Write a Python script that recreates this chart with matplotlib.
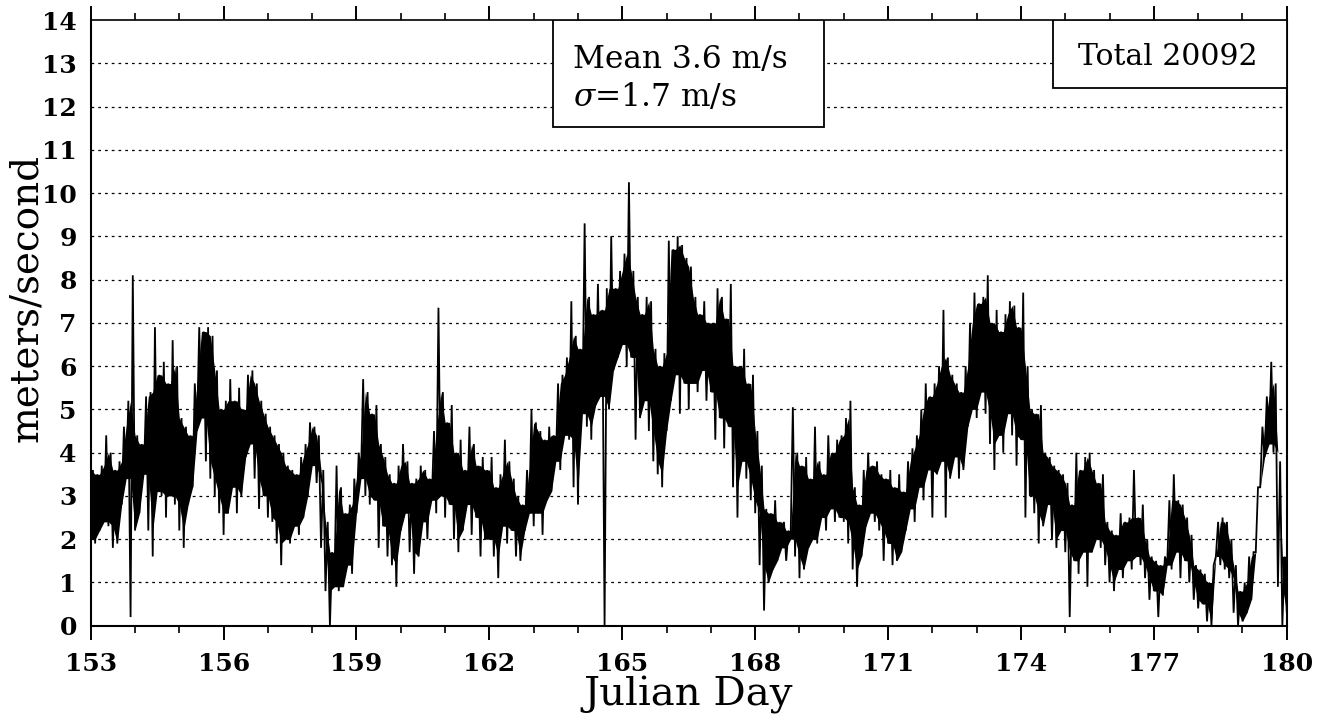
import numpy as np
import matplotlib
matplotlib.use("Agg")
import matplotlib.pyplot as plt
from matplotlib.patches import Rectangle
from matplotlib.ticker import MultipleLocator

plt.rcParams['font.family'] = ['DejaVu Serif']
plt.rcParams['mathtext.fontset'] = 'dejavuserif'

# wind speed, one low/high pair every 0.1 day from day 153.0
day_start = 153.0
day_step = 0.1

speed_low = [
    2.0, 1.9, 2.2, 2.4, 2.3, 1.8, 1.9, 2.8, 3.4, 0.2,   # 153
    2.2, 2.6, 3.5, 2.2, 1.6, 3.1, 3.0, 2.5, 3.0, 2.8,   # 154
    2.2, 1.8, 2.8, 3.2, 4.5, 4.8, 3.8, 3.4, 3.0, 2.6,   # 155
    2.1, 2.6, 3.2, 2.6, 3.0, 3.9, 4.2, 3.4, 2.7, 3.0,   # 156
    2.5, 2.4, 1.9, 1.4, 2.0, 1.9, 2.3, 2.1, 2.5, 3.0,   # 157
    3.7, 3.3, 1.8, 0.8, 0.0, 0.9, 0.8, 0.9, 1.4, 1.2,   # 158
    2.6, 3.4, 3.0, 2.8, 2.9, 1.8, 2.3, 1.6, 1.4, 0.9,   # 159
    2.2, 2.6, 1.7, 1.2, 1.6, 2.4, 2.0, 2.9, 2.6, 3.0,   # 160
    2.5, 2.8, 2.0, 1.7, 2.2, 2.8, 2.1, 2.5, 1.6, 2.0,   # 161
    2.0, 1.6, 1.1, 2.3, 1.9, 2.2, 1.6, 1.5, 2.2, 2.6,   # 162
    2.3, 2.6, 2.1, 2.9, 3.1, 3.8, 3.6, 4.4, 4.3, 3.2,   # 163
    2.8, 4.9, 4.6, 4.3, 5.1, 5.3, 0.0, 5.0, 5.9, 6.2,   # 164
    6.5, 6.0, 6.2, 4.3, 4.8, 5.2, 4.5, 3.8, 3.5, 3.2,   # 165
    4.5, 5.2, 5.8, 4.9, 5.6, 5.0, 5.6, 5.4, 5.9, 5.2,   # 166
    5.4, 4.3, 4.8, 4.1, 4.6, 3.2, 2.5, 3.8, 3.4, 2.9,   # 167
    2.6, 1.4, 0.35, 1.0, 1.3, 1.5, 1.8, 1.5, 2.0, 1.6,  # 168
    1.1, 1.3, 1.8, 2.0, 1.9, 2.5, 2.2, 2.7, 2.4, 2.5,   # 169
    2.4, 1.9, 1.3, 0.9, 1.6, 2.3, 2.6, 2.4, 2.2, 1.5,   # 170
    1.9, 1.4, 1.5, 1.7, 2.2, 2.7, 2.4, 3.2, 2.9, 3.6,   # 171
    2.5, 3.5, 3.8, 2.5, 3.4, 3.9, 3.4, 3.6, 4.6, 5.0,   # 172
    4.8, 5.4, 4.9, 4.2, 3.6, 4.4, 4.0, 4.9, 4.4, 3.7,   # 173
    4.3, 2.5, 3.0, 2.6, 1.9, 2.3, 2.8, 2.0, 1.8, 2.2,   # 174
    1.7, 0.2, 1.5, 1.2, 1.7, 0.9, 1.7, 2.0, 1.8, 1.4,   # 175
    1.0, 0.8, 1.3, 1.1, 1.5, 1.3, 1.6, 1.4, 1.1, 0.6,   # 176
    0.8, 0.2, 0.7, 1.4, 1.3, 1.7, 1.1, 1.5, 1.0, 0.6,   # 177
    0.4, 0.5, 0.1, 0.0, 1.6, 1.4, 1.3, 1.1, 0.3, 0.0,   # 178
    0.1, 0.3, 0.6, 1.7, 3.2, 3.9, 4.2, 4.0, 0.9, 0.0,   # 179
    0.3,                                                # 180
]

speed_high = [
    3.6, 3.5, 3.7, 4.4, 4.0, 3.6, 3.8, 4.6, 5.2, 8.1,   # 153
    4.4, 4.2, 5.3, 5.4, 6.9, 5.8, 6.1, 5.6, 6.6, 6.0,   # 154
    4.8, 4.6, 4.4, 5.6, 6.9, 6.8, 6.9, 6.7, 5.9, 5.0,   # 155
    5.2, 5.7, 5.2, 5.5, 5.0, 5.8, 5.9, 5.6, 5.2, 4.9,   # 156
    4.6, 4.4, 4.2, 4.0, 3.7, 3.6, 3.5, 3.9, 4.2, 4.7,   # 157
    4.6, 4.4, 3.6, 2.4, 1.7, 3.7, 3.2, 2.6, 2.8, 3.4,   # 158
    4.0, 5.7, 5.4, 4.9, 5.1, 4.2, 3.9, 3.5, 3.3, 3.7,   # 159
    4.2, 3.8, 3.3, 3.4, 3.7, 3.6, 3.4, 4.5, 7.35, 5.4,  # 160
    4.7, 5.1, 4.0, 4.3, 3.6, 4.6, 4.2, 3.7, 3.9, 3.6,   # 161
    3.9, 3.2, 3.5, 4.3, 3.8, 3.4, 3.0, 2.8, 3.6, 5.0,   # 162
    4.7, 4.5, 4.3, 4.6, 4.4, 5.6, 5.8, 6.2, 7.5, 6.7,   # 163
    6.4, 9.3, 7.6, 7.2, 7.9, 7.3, 7.8, 9.0, 7.8, 8.2,   # 164
    8.6, 10.25, 8.2, 7.6, 7.2, 7.6, 7.5, 6.4, 6.0, 6.3, # 165
    8.9, 8.7, 9.0, 8.8, 8.5, 8.3, 7.6, 7.2, 7.5, 7.0,   # 166
    7.0, 7.8, 7.6, 7.1, 7.9, 6.0, 6.0, 6.4, 5.6, 5.8,   # 167
    4.5, 3.7, 2.7, 2.6, 2.9, 2.4, 2.4, 2.2, 5.05, 4.0,  # 168
    3.7, 3.9, 3.4, 4.6, 3.8, 3.5, 4.4, 4.0, 4.3, 4.4,   # 169
    4.8, 5.2, 3.2, 2.8, 3.6, 4.0, 3.7, 3.8, 3.5, 3.4,   # 170
    3.6, 3.2, 3.5, 3.1, 3.8, 4.1, 4.4, 5.0, 5.6, 5.3,   # 171
    5.6, 6.0, 7.3, 6.2, 5.8, 5.6, 5.4, 6.0, 7.0, 7.7,   # 172
    7.45, 7.6, 8.1, 7.0, 7.3, 6.8, 7.2, 7.5, 7.4, 6.9,  # 173
    7.7, 6.0, 5.0, 4.9, 5.1, 4.0, 3.9, 3.7, 3.6, 3.5,   # 174
    3.3, 2.8, 4.0, 3.6, 3.9, 4.0, 3.6, 3.3, 3.5, 2.4,   # 175
    2.2, 2.1, 2.6, 2.4, 2.5, 3.6, 2.5, 2.8, 2.0, 1.6,   # 176
    1.5, 1.4, 1.6, 2.9, 3.5, 2.9, 2.8, 2.5, 2.1, 1.4,   # 177
    1.3, 1.2, 1.0, 1.4, 2.4, 2.5, 2.4, 2.0, 1.4, 0.8,   # 178
    1.0, 1.6, 1.7, 3.2, 4.6, 5.3, 6.1, 5.6, 3.8, 1.6,   # 179
    2.0,                                                # 180
]

x_ticks = [153, 156, 159, 162, 165, 168, 171, 174, 177, 180]
y_ticks = list(range(0, 15))
mean_text = "Mean 3.6 m/s"
sigma_text = r"$\sigma$=1.7 m/s"
total_text = "Total 20092"

low = np.array(speed_low)
high = np.array(speed_high)
days = day_start + day_step * np.arange(len(low))

# zig-zag between the low and high reading of each slot to get the dense trace
xs = np.empty(2 * len(days))
ys = np.empty(2 * len(days))
xs[0::2] = days
xs[1::2] = days + day_step / 2
ys[0::2] = low
ys[1::2] = high

# solid core of the trace: where neighbouring slots overlap
core_lo = np.maximum(low, np.roll(low, 1))
core_hi = np.minimum(high, np.roll(high, 1))
core_lo[0], core_hi[0] = low[0], high[0]
core_hi = np.maximum(core_hi, core_lo)

fig = plt.figure(figsize=(13.3, 7.17), dpi=100)
ax = fig.add_axes([0.0682, 0.1273, 0.8993, 0.8448])

ax.fill_between(days, core_lo, core_hi, color='black', lw=0)
ax.plot(xs, ys, color='black', lw=1.3, solid_joinstyle='miter')

ax.set_xlim(153, 180)
ax.set_ylim(0, 14)
ax.set_xticks(x_ticks)
ax.xaxis.set_minor_locator(MultipleLocator(1))
ax.set_yticks(y_ticks)

for y in y_ticks[1:-1]:
    ax.axhline(y, color='black', lw=0.9, linestyle=(0, (2.2, 3.2)), zorder=0)

ax.tick_params(axis='x', which='major', direction='out', length=10, width=1.4,
               top=True, labelsize=18, pad=9)
ax.tick_params(axis='x', which='minor', direction='out', length=5, width=1.2, top=True)
ax.tick_params(axis='y', which='both', length=0, labelsize=18, pad=10)
for lab in ax.get_xticklabels() + ax.get_yticklabels():
    lab.set_fontweight('bold')

for side in ['left', 'bottom', 'right']:
    ax.spines[side].set_linewidth(1.5)
ax.spines['top'].set_linewidth(1.2)

# statistics boxes
ax.add_patch(Rectangle((0.3866, 0.8233), 0.2265, 0.1767, transform=ax.transAxes,
                       facecolor='white', edgecolor='black', lw=1.3, zorder=5))
ax.text(0.4033, 0.9211, mean_text, transform=ax.transAxes, fontsize=22.5,
        ha='left', va='baseline', zorder=6)
ax.text(0.4033, 0.858, sigma_text, transform=ax.transAxes, fontsize=22.5,
        ha='left', va='baseline', zorder=6)

ax.add_patch(Rectangle((0.8046, 0.8877), 0.1954, 0.1123, transform=ax.transAxes,
                       facecolor='white', edgecolor='black', lw=1.3, zorder=5))
ax.text(0.9003, 0.926, total_text, transform=ax.transAxes, fontsize=21.5,
        ha='center', va='baseline', zorder=6)

fig.text(688 / 1330, 1 - 705 / 717, "Julian Day", fontsize=29,
         ha='center', va='baseline')
fig.text(27 / 1330, 1 - 298 / 717, "meters/second", fontsize=28,
         rotation=90, ha='center', va='center')

fig.savefig("out.png", dpi=100)
